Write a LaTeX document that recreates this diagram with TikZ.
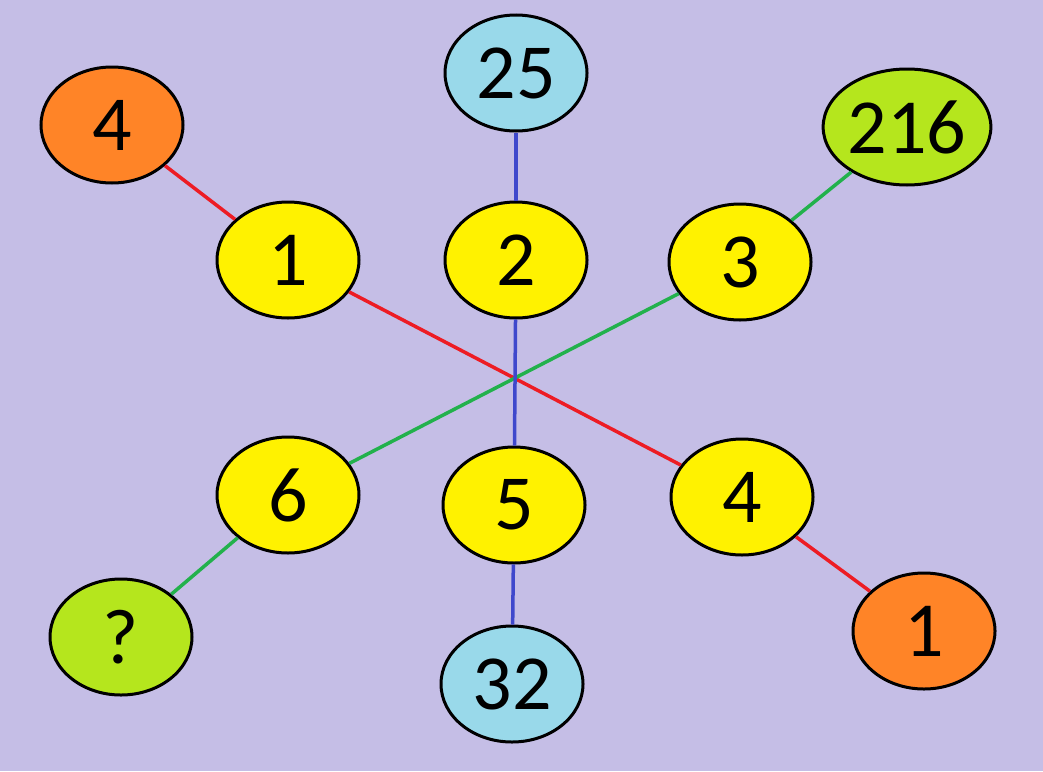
\documentclass[tikz,border=0pt]{standalone}
\usepackage{fontspec}
\setmainfont{Carlito}
\usetikzlibrary{shapes.geometric}
\definecolor{bg}{HTML}{C5BEE6}
\definecolor{yel}{HTML}{FFF200}
\definecolor{ora}{HTML}{FF8427}
\definecolor{grn}{HTML}{B5E61D}
\definecolor{blu}{HTML}{99D9EA}
\definecolor{lred}{HTML}{ED1C24}
\definecolor{lgrn}{HTML}{22B14C}
\definecolor{lblu}{HTML}{3F48CC}
\begin{document}
\begin{tikzpicture}[x=1pt,y=-1pt,
 el/.style={ellipse,draw=black,line width=3pt,minimum width=142pt,minimum height=116pt,inner sep=0pt,font=\fontsize{78}{78}\selectfont},
 ln/.style={line width=3.5pt}]
\fill[bg] (0,0) rectangle (1043,771);
\node[el,fill=yel] (y1) at (288,260) {1};
\node[el,fill=yel] (y2) at (516,260) {2};
\node[el,fill=yel] (y3) at (740,262) {3};
\node[el,fill=yel] (y6) at (288,495) {6};
\node[el,fill=yel] (y5) at (514,505) {5};
\node[el,fill=yel] (y4) at (742,497) {4};
\node[el,fill=ora] (o4) at (112,125) {4};
\node[el,fill=blu] (b25) at (516,73) {25};
\node[el,fill=grn] (g216) at (907,127) {216};
\node[el,fill=grn] (gq) at (121,637) {?};
\node[el,fill=blu] (b32) at (512,684) {32};
\node[el,fill=ora] (o1) at (924,631) {1};
\draw[ln,lred] (y1) -- (y4);
\draw[ln,lgrn] (y3) -- (y6);
\draw[ln,lblu] (y2) -- (y5);
\draw[ln,lred] (o4) -- (y1);
\draw[ln,lblu] (b25) -- (y2);
\draw[ln,lgrn] (g216) -- (y3);
\draw[ln,lgrn] (y6) -- (gq);
\draw[ln,lblu] (y5) -- (b32);
\draw[ln,lred] (y4) -- (o1);
\end{tikzpicture}
\end{document}
